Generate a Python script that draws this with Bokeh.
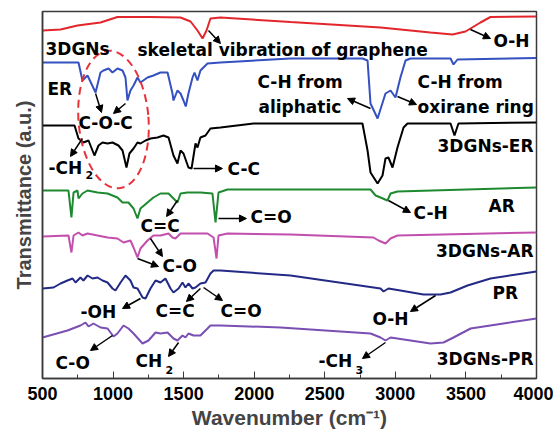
from bokeh.plotting import figure
from bokeh.models import Label, Arrow, NormalHead, FixedTicker, Range1d, Ellipse, ColumnDataSource
from bokeh.embed import file_html
from bokeh.resources import INLINE

# ---- spectra (wavenumber, transmittance in arbitrary offset units) ----
red_x = [500, 628, 748, 911, 1031, 1265, 1478, 1549, 1598, 1634, 1662, 1690, 1761, 2257, 2895, 3249, 3405, 3497, 3603, 3674, 4000]
red_y = [348, 349, 353, 356, 361.5, 361.5, 361, 357, 348, 340, 348, 360, 361, 356.5, 351, 346, 344, 347, 356, 361.5, 362]

blue_x = [500, 755, 783, 819, 876, 911, 932, 968, 996, 1031, 1067, 1088, 1102, 1123, 1145, 1173, 1194, 1244, 1286, 1336, 1386,
          1421, 1428, 1456, 1478, 1499, 1515, 1534, 1563, 1577, 1598, 1619, 1669, 1761, 2257, 2767, 2803, 2824, 2874, 2930,
          2966, 3001, 3036, 3072, 3107, 3391, 3412, 3440, 4000]
blue_y = [316, 316, 298, 303, 286, 306, 308, 310, 306, 310, 308, 301, 278, 288, 293, 301, 296, 301, 303, 306, 306,
          285, 278, 288, 285, 278, 272, 285, 301, 306, 298, 308, 315, 316, 320, 320, 318, 275, 260, 285,
          288, 281, 301, 318, 320, 320, 314, 319, 320.5]

black_x = [500, 727, 755, 790, 826, 868, 897, 925, 961, 996, 1038, 1067, 1095, 1116, 1145, 1173, 1194, 1230, 1265, 1315, 1357,
           1393, 1428, 1456, 1478, 1499, 1534, 1556, 1584, 1598, 1619, 1655, 1690, 1761, 1995, 2767, 2803, 2824, 2874, 2909,
           2930, 2951, 2980, 3015, 3058, 3086, 3391, 3419, 3447, 4000]
black_y = [253, 253, 240, 236, 238, 223, 233, 236, 235, 236, 233, 228, 211, 225, 230, 236, 235, 238, 240, 241, 243,
           241, 223, 215, 228, 225, 211, 210, 235, 231, 241, 243, 250, 251, 255, 255, 228, 206, 195, 203,
           220, 221, 211, 231, 251, 255, 255, 243, 255, 256]

green_x = [500, 684, 705, 720, 748, 755, 783, 819, 890, 961, 1031, 1067, 1109, 1145, 1173, 1194, 1244, 1286, 1336, 1393,
           1428, 1456, 1478, 1527, 1619, 1704, 1726, 1747, 1811, 2257, 2824, 2860, 2895, 2944, 2966, 3015, 4000]
green_y = [188, 188, 161, 186, 188, 180, 185, 188, 186, 185, 181, 176, 176, 170, 160, 170, 176, 181, 185, 185,
           180, 176, 185, 186, 186, 185, 156, 186, 189, 189, 189, 183, 181, 178, 185, 187, 191]

pink_x = [500, 684, 705, 720, 755, 783, 819, 890, 961, 1031, 1074, 1123, 1145, 1173, 1194, 1244, 1286, 1336, 1393, 1421,
          1442, 1478, 1669, 1712, 1733, 1747, 1811, 2257, 2845, 2881, 2930, 2966, 3015, 4000]
pink_y = [142, 143, 126, 143, 146, 143, 145, 143, 141, 140, 136, 138, 131, 121, 130, 138, 143, 143, 145, 141,
          140, 145, 145, 141, 120, 143, 145, 144, 141, 138, 135, 140, 143, 146]

navy_x = [500, 578, 628, 677, 713, 734, 769, 790, 819, 854, 890, 925, 961, 996, 1017, 1053, 1088, 1123, 1145, 1173,
          1209, 1230, 1265, 1301, 1336, 1371, 1407, 1428, 1464, 1492, 1513, 1534, 1563, 1584, 1619, 1655, 1690, 1712,
          1761, 2257, 2895, 2916, 2951, 3036, 3199, 3320, 3391, 3511, 3674, 4000]
navy_y = [90, 91, 95, 98, 100, 96, 101, 98, 103, 100, 101, 98, 96, 90, 88, 96, 103, 98, 91, 90,
          81, 80, 90, 98, 96, 100, 90, 86, 90, 96, 91, 95, 90, 91, 95, 96, 105, 108,
          108, 103, 90, 87, 90, 88, 84, 84, 86, 93, 100, 107]

purple_x = [500, 677, 769, 805, 826, 861, 911, 961, 1003, 1031, 1074, 1109, 1145, 1209, 1251, 1301, 1336, 1386, 1428, 1456,
            1492, 1513, 1534, 1570, 1619, 1669, 1690, 1761, 2186, 2824, 2895, 2930, 2966, 3107, 3249, 3341, 3412, 3533,
            3766, 4000]
purple_y = [41, 48, 53, 56, 52, 55, 51, 50, 42, 45, 53, 50, 45, 35, 38, 46, 45, 46, 40, 38,
            43, 41, 45, 43, 43, 50, 53, 53, 51, 45, 41, 38, 41, 38, 35, 36, 41, 50,
            55, 60]

series = [
    (red_x, red_y, "#e3262b"),
    (blue_x, blue_y, "#3550c0"),
    (black_x, black_y, "#000000"),
    (green_x, green_y, "#1e8a30"),
    (pink_x, pink_y, "#c24fae"),
    (navy_x, navy_y, "#232a86"),
    (purple_x, purple_y, "#7a4fb3"),
]

x_ticks = [500, 1000, 1500, 2000, 2500, 3000, 3500, 4000]
x_minor = [750, 1250, 1750, 2250, 2750, 3250, 3750]

# ---- annotations: text, x (cm-1), y, align, size ----
labels = [
    ("3DGNs", 521, 330, "left", 17),
    ("skeletal vibration of graphene", 1173, 329, "left", 17),
    ("ER", 535, 290, "left", 17),
    ("C-O-C", 755, 256, "left", 17),
    ("-CH", 543, 211, "left", 17),
    ("2", 805, 204, "left", 11),
    ("C-C", 1811, 210, "left", 17),
    ("C-H from", 2023, 297, "left", 17),
    ("aliphatic", 2030, 272, "left", 17),
    ("C-H from", 3157, 297, "left", 17),
    ("oxirane ring", 3157, 272, "left", 17),
    ("O-H", 3695, 338, "left", 17),
    ("3DGNs-ER", 3979, 233, "right", 17),
    ("AR", 3660, 173, "left", 17),
    ("C-H", 3129, 166, "left", 17),
    ("C=C", 1194, 153, "left", 17),
    ("C=O", 1974, 162, "left", 17),
    ("3DGNs-AR", 3979, 128, "right", 17),
    ("C-O", 1350, 113, "left", 17),
    ("PR", 3688, 86, "left", 17),
    ("O-H", 2838, 60, "left", 17),
    ("-OH", 769, 67, "left", 17),
    ("C=C", 1301, 68, "left", 17),
    ("C=O", 1761, 68, "left", 17),
    ("C-O", 592, 16, "left", 17),
    ("CH", 1159, 18, "left", 17),
    ("2", 1371, 9, "left", 11),
    ("-CH", 2455, 18, "left", 17),
    ("3", 2718, 9, "left", 11),
    ("3DGNs-PR", 3979, 20, "right", 17),
]

arrows = [
    (1676, 348, 1761, 335), (3532, 349, 3674, 340), (876, 285, 918, 266), (1088, 275, 1003, 265),
    (783, 240, 698, 222), (1570, 210, 1775, 210), (2824, 270, 2661, 280), (3015, 282, 3150, 274),
    (2951, 178, 3107, 166), (1456, 178, 1379, 162), (1747, 160, 1945, 160), (1265, 140, 1350, 122),
    (1173, 120, 1322, 112), (1194, 80, 1067, 70), (1619, 90, 1520, 77), (1641, 91, 1775, 78),
    (3285, 83, 3107, 67), (996, 43, 840, 28), (1464, 36, 1393, 22), (2930, 36, 2767, 20),
]

ellipse_center = (1003, 259)

FONT = "Liberation Sans"
LABEL_FONT = "DejaVu Sans"

p = figure(width=553, height=431, x_range=Range1d(500, 4000), y_range=Range1d(0, 367),
           output_backend="svg", toolbar_location=None,
           min_border_left=42, min_border_right=17, min_border_top=11, min_border_bottom=53)
p.grid.visible = False
p.outline_line_color = "#3a3a3a"
p.outline_line_width = 1.5

for xs, ys, c in series:
    p.line(xs, ys, line_color=c, line_width=2)

src = ColumnDataSource(dict(x=[ellipse_center[0]], y=[ellipse_center[1]]))
p.add_glyph(src, Ellipse(x="x", y="y", width=70, height=138, width_units="screen", height_units="screen",
                         angle=0.08, fill_color=None, line_color="#e8323a", line_width=2, line_dash="8 5"))

for x0, y0, x1, y1 in arrows:
    p.add_layout(Arrow(x_start=x0, y_start=y0, x_end=x1, y_end=y1, line_width=1.5, line_color="black",
                       end=NormalHead(size=7, fill_color="black", line_color="black")))

for t, x, y, al, sz in labels:
    p.add_layout(Label(x=x, y=y, text=t, text_align=al, text_baseline="middle",
                       text_font=LABEL_FONT, text_font_style="bold", text_font_size=f"{sz}px", text_color="black"))

xa = p.xaxis[0]
xa.ticker = FixedTicker(ticks=x_ticks, minor_ticks=x_minor)
xa.major_tick_in = 7
xa.major_tick_out = 0
xa.minor_tick_in = 4
xa.minor_tick_out = 0
xa.major_label_standoff = 8
xa.major_label_text_font = FONT
xa.major_label_text_font_style = "bold"
xa.major_label_text_font_size = "18px"
xa.major_label_text_color = "black"
xa.axis_label = "Wavenumber (cm⁻¹)"
xa.axis_label_text_font = FONT
xa.axis_label_text_font_style = "bold"
xa.axis_label_text_font_size = "21px"
xa.axis_label_standoff = 3
xa.axis_line_color = "#3a3a3a"
xa.axis_line_width = 1.5
xa.major_tick_line_color = "#3a3a3a"
xa.minor_tick_line_color = "#3a3a3a"

ya = p.yaxis[0]
ya.ticker = FixedTicker(ticks=[])
ya.major_tick_line_color = None
ya.minor_tick_line_color = None
ya.axis_label = "Transmittance (a.u.)"
ya.axis_label_text_font = FONT
ya.axis_label_text_font_style = "bold"
ya.axis_label_text_font_size = "20px"
ya.axis_label_standoff = 8
ya.axis_line_color = "#3a3a3a"
ya.axis_line_width = 1.5

open("out.html", "w").write(file_html(p, INLINE))
